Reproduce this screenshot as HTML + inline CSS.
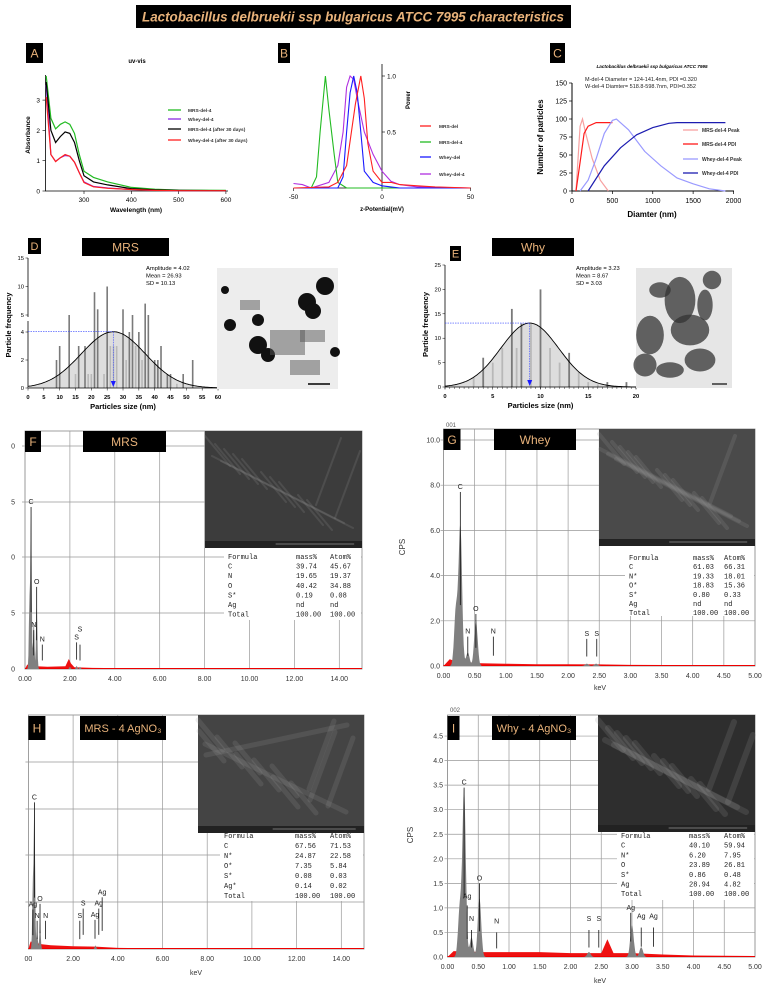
<!DOCTYPE html>
<html><head><meta charset="utf-8"><style>
html,body{margin:0;padding:0;background:#fff}
svg{display:block}
text{font-family:"Liberation Sans",sans-serif}
.mono{font-family:"Liberation Mono",monospace}
</style></head><body>
<svg id="fig" width="769" height="988" viewBox="0 0 769 988">
<rect x="136" y="5" width="435" height="23" fill="#000"/>
<text x="353" y="21.5" text-anchor="middle" font-size="13.4" font-weight="bold" font-style="italic" fill="#e8b27a">Lactobacillus delbruekii ssp bulgaricus ATCC 7995 characteristics</text>
<g id="labels"></g>
</svg>
<script>
// ---------- Panel A data ----------
const aWave=[220,230,240,250,260,270,280,290,300,320,350,400,450,500,600];
const aMRS=[3.8,2.4,2.05,2.2,2.28,2.2,1.9,1.2,0.65,0.45,0.3,0.12,0.06,0.03,0.02];
const aWhey=[3.5,1.2,0.98,1.1,1.17,1.15,0.95,0.6,0.3,0.15,0.1,0.05,0.02,0.01,0.01];
const aMRS30=[3.6,2.0,1.6,1.8,1.95,1.9,1.6,1.0,0.5,0.3,0.2,0.08,0.04,0.02,0.01];
const aWhey30=[3.1,1.2,0.97,1.1,1.2,1.15,0.95,0.6,0.28,0.14,0.09,0.05,0.02,0.01,0.01];
const aXTicks=[300,400,500,600];
const aYTicks=[0,1,2,3];
// ---------- Panel B data ----------
const bMRSx=[-50,-30,-25,-20,-15,-12,-10,-8,-5,0,5,10,20,30,50];
const bMRSy=[0,0.01,0.05,0.2,0.75,1.0,0.8,0.4,0.15,0.05,0.05,0.03,0.02,0.01,0];
const bMRS4x=[-50,-40,-37,-35,-32,-30,-27,-25,-20,-10,50];
const bMRS4y=[0,0,0.1,0.5,1.0,0.7,0.3,0.05,0,0,0];
const bWheyx=[-50,-30,-25,-22,-20,-18,-16,-14,-12,-10,-5,0,5,10,50];
const bWheyy=[0,0,0,0.1,0.5,0.85,1.0,0.85,0.5,0.15,0.05,0.02,0.01,0,0];
const bWhey4x=[-50,-45,-40,-30,-25,-22,-20,-18,-16,-14,-10,-5,0,5,10,20,50];
const bWhey4y=[0.04,0.03,0,0.05,0.2,0.5,0.9,1.0,0.97,0.8,0.5,0.3,0.15,0.06,0.03,0.01,0];
// ---------- Panel C data ----------
const cMPx=[50,100,130,170,250,350,450];
const cMPy=[0,90,100,80,45,15,0];
const cMDx=[50,100,150,200,300,500];
const cMDy=[0,40,80,90,95,95];
const cWPx=[100,200,300,400,500,550,700,900,1100,1300,1500,1700,1900];
const cWPy=[0,15,45,80,98,100,85,55,35,18,10,3,0];
const cWDx=[200,400,600,800,1000,1200,1300,1900];
const cWDy=[0,35,60,78,88,94,95,95];
const cXTicks=[0,500,1000,1500,2000];
const cYTicks=[0,25,50,75,100,125,150];
// ---------- Panel D data ----------
const dSize=[9,10,13,15,16,18,19,20,21,22,24,25,26,27,28,30,31,32,33,34,35,36,37,38,40,41,42,44,45,47,49,52];
const dCount=[2,3,5,1,3,3,1,1,9,6,1,10,3,3,3,6,2,4,5,3,4,2,7,5,2,2,3,1,1,0.3,1,2];
const dFit=[4.02,26.93,10.13];
const dXTicks=[0,5,10,15,20,25,30,35,40,45,50,55,60];
const dYTicks=[0,2,4,5,10,15];
// ---------- Panel E data ----------
const eSize=[3,4,5,6,7,7.5,8,9,10,11,12,13,14,15,16,17,19];
const eCount=[2,6,5,8,16,8,13,13,20,8,5,7,3,1,0.5,1,1];
const eFit=[13.1,8.87,3.03];
const eXTicks=[0,5,10,15,20];
const eYTicks=[0,5,10,15,20,25];
// ---------- EDS data ----------
const fPeakPos=[0.2,0.27,0.39,0.52,2.0,2.3,2.45];
const fPeakH=[6,14.5,4.5,6.3,0.2,0.3,0.2];
const fRedX=[0,0.1,0.5,1.0,1.8,1.95,2.05,2.2,3.0,5.0,8.0,15];
const fRedY=[0,0.4,0.25,0.2,0.25,0.9,0.5,0.15,0.1,0.06,0.03,0.02];
const gPeakPos=[0.2,0.27,0.39,0.52,2.3,2.45];
const gPeakH=[2.5,6.2,0.6,2.0,0.1,0.1];
const gRedX=[0,0.1,0.2,0.6,1.0,1.5,2.0,2.5,3.0,4.0,5.0];
const gRedY=[0,0.3,0.2,0.12,0.1,0.08,0.08,0.07,0.05,0.04,0.03];
const hPeakPos=[0.2,0.27,0.39,0.52,3.0];
const hPeakH=[7,16,2,3,0.4];
const hRedX=[0,0.1,0.6,1.0,2.0,3.0,4.0,6.0,15];
const hRedY=[0,0.8,0.5,0.4,0.3,0.25,0.12,0.04,0.02];
const iPeakPos=[0.2,0.27,0.39,0.52,2.3,3.0,3.15];
const iPeakH=[1.0,3.4,0.4,1.2,0.1,0.65,0.2];
const iRedX=[0,0.1,0.6,1.0,1.5,2.0,2.5,2.6,2.7,3.0,3.5,4.0,5.0];
const iRedY=[0,0.12,0.1,0.1,0.1,0.08,0.08,0.36,0.08,0.08,0.05,0.03,0.02];

const NS='http://www.w3.org/2000/svg';
const svg=document.getElementById('fig');
function mk(tag,attrs,parent){const e=document.createElementNS(NS,tag);for(const k in attrs)e.setAttribute(k,attrs[k]);(parent||svg).appendChild(e);return e;}
function txt(x,y,s,size,attrs){const t=mk('text',Object.assign({x:x,y:y,'font-size':size},attrs||{}));t.textContent=s;return t;}
function pts(xs,ys,sx,sy){return xs.map((v,i)=>sx(v).toFixed(1)+','+sy(ys[i]).toFixed(1)).join(' ');}
function box(x,y,w,h,label,fs,name){const r=mk('rect',{x:x,y:y,width:w,height:h,fill:'#000'});


const t=txt(x+w/2,y+h/2+fs*0.36,label,fs,{'text-anchor':'middle',fill:'#e8b27a'});


return t;}

// ===== Panel A =====
box(26,43,17,20,'A',12,'panel-a');
const ax=v=>84+(v-300)*0.473, ay=v=>Math.max(75,191-v*30.3);
let e=mk('polyline',{points:'45.5,75 45.5,191 228,191',fill:'none',stroke:'#000','stroke-width':0.8});


aXTicks.forEach(v=>{mk('line',{x1:ax(v),x2:ax(v),y1:191,y2:194,stroke:'#000','stroke-width':0.6});
const t=txt(ax(v),202,String(v),6.5,{'text-anchor':'middle'});

});
aYTicks.forEach(v=>{mk('line',{x1:42.5,x2:45.5,y1:ay(v),y2:ay(v),stroke:'#000','stroke-width':0.6});
const t=txt(40,ay(v)+2.5,String(v),6.5,{'text-anchor':'end'});

});
const aSeries=[[aMRS,'#22bb22','MRS-del-4'],[aWhey,'#8a2be2','Whey-del-4'],[aMRS30,'#000','MRS-del-4 (after 30 days)'],[aWhey30,'#ff2020','Whey-del-4 (after 30 days)']];
aSeries.forEach((s,i)=>{const l=mk('polyline',{points:pts(aWave,s[0],ax,ay),fill:'none',stroke:s[1],'stroke-width':1.2});


const ly=[110,119,129,140][i];
mk('line',{x1:168,x2:181,y1:ly,y2:ly,stroke:s[1],'stroke-width':1.3});
const t=txt(188,ly+2,s[2],4.8,{'font-weight':'bold',fill:'#333'});

});
e=txt(137,63,'uv-vis',6,{'text-anchor':'middle','font-weight':'bold'});


e=txt(30,135,'Absorbance',6.5,{'text-anchor':'middle','font-weight':'bold',transform:'rotate(-90 30 135)'});


e=txt(136,212,'Wavelength (nm)',6.5,{'text-anchor':'middle','font-weight':'bold'});



// ===== Panel B =====
box(278,43,12,20,'B',12,'panel-b');
const bx=v=>382+v*1.77, by=v=>188-v*112;
e=mk('line',{x1:294,x2:471,y1:188,y2:188,stroke:'#000','stroke-width':0.8});


e=mk('line',{x1:382,x2:382,y1:64,y2:188,stroke:'#000','stroke-width':0.8});


[-50,0,50].forEach(v=>{mk('line',{x1:bx(v),x2:bx(v),y1:188,y2:191,stroke:'#000','stroke-width':0.6});
const t=txt(bx(v),199,String(v),6.5,{'text-anchor':'middle'});

});
[0.5,1.0].forEach(v=>{mk('line',{x1:382,x2:385,y1:by(v),y2:by(v),stroke:'#000','stroke-width':0.6});
const t=txt(387,by(v)+2.5,v.toFixed(1),6.5,{});

});
const bSeries=[[bMRSx,bMRSy,'#ff2020','MRS-del'],[bMRS4x,bMRS4y,'#22bb22','MRS-del-4'],[bWheyx,bWheyy,'#1a1aff','Whey-del'],[bWhey4x,bWhey4y,'#b030e0','Whey-del-4']];
[3,1,2,0].forEach(i=>{const s=bSeries[i];const l=mk('polyline',{points:pts(s[0],s[1],bx,by),fill:'none',stroke:s[2],'stroke-width':1.1});

});
bSeries.forEach((s,i)=>{const ly=[126,142,157,174][i];mk('line',{x1:420,x2:431,y1:ly,y2:ly,stroke:s[2],'stroke-width':1.3});
const t=txt(439,ly+2,s[3],4.8,{'font-weight':'bold',fill:'#333'});

});
e=txt(410,100,'Power',6,{'text-anchor':'middle','font-weight':'bold',transform:'rotate(-90 410 100)'});


e=txt(382,211,'z-Potential(mV)',6,{'text-anchor':'middle','font-weight':'bold'});



// ===== Panel C =====
box(550,43,15,20,'C',12,'panel-c');
const cx=v=>572+v*0.08075, cy=v=>191-v*0.72;
e=mk('polyline',{points:'572,83 572,191 734,191',fill:'none',stroke:'#000','stroke-width':1});


cXTicks.forEach(v=>{mk('line',{x1:cx(v),x2:cx(v),y1:191,y2:194,stroke:'#000','stroke-width':0.7});
const t=txt(cx(v),203,String(v),7,{'text-anchor':'middle'});

});
cYTicks.forEach(v=>{mk('line',{x1:569,x2:572,y1:cy(v),y2:cy(v),stroke:'#000','stroke-width':0.7});
const t=txt(567,cy(v)+2.5,String(v),7,{'text-anchor':'end'});

});
const cSeries=[[cMPx,cMPy,'#f7a0a0','MRS-del-4 Peak'],[cMDx,cMDy,'#ff1a1a','MRS-del-4 PDI'],[cWPx,cWPy,'#9a9aff','Whey-del-4 Peak'],[cWDx,cWDy,'#1c1cb0','Whey-del-4 PDI']];
cSeries.forEach((s,i)=>{const l=mk('polyline',{points:pts(s[0],s[1],cx,cy),fill:'none',stroke:s[2],'stroke-width':1.2});


const ly=[130,144,159,173][i];mk('line',{x1:683,x2:698,y1:ly,y2:ly,stroke:s[2],'stroke-width':1.3});
const t=txt(702,ly+2,s[3],5,{'font-weight':'bold',fill:'#333'});

});
e=txt(652,68,'Lactobacillus delbruekii ssp bulgaricus ATCC 7995',4.6,{'text-anchor':'middle','font-weight':'bold','font-style':'italic'});


e=txt(585,81,'M-del-4 Diameter = 124-141.4nm, PDI =0.320',5.5,{fill:'#222'});


e=txt(585,88,'W-del-4 Diamter= 518.8-598.7nm, PDI=0.352',5.5,{fill:'#222'});


e=txt(543,137,'Number of particles',8,{'text-anchor':'middle','font-weight':'bold',transform:'rotate(-90 543 137)'});


e=txt(652,217,'Diamter (nm)',8,{'text-anchor':'middle','font-weight':'bold'});



// ===== Histograms =====
function gauss(x,f){return f[0]*Math.exp(-0.5*Math.pow((x-f[1])/f[2],2));}
function hist(sizes,counts,fit,xs,ys,x0,x1,y0,xt,yt,pref,barW,stats){
 let p=[];for(let v=xs.inv(x0);v<=xs.inv(x1)+0.001;v+=(xs.inv(x1)-xs.inv(x0))/120)p.push(xs(v).toFixed(1)+','+ys(gauss(v,fit)).toFixed(1));
 let a=mk('polygon',{points:xs(xs.inv(x0))+','+y0+' '+p.join(' ')+' '+x1+','+y0,fill:'#ddd'});
 
 
 sizes.forEach((s,i)=>{const inside=counts[i]<=gauss(s,fit);const r=mk('rect',{x:xs(s)-barW/2,y:ys(counts[i]),width:barW,height:y0-ys(counts[i]),fill:inside?'#b8b8b8':'#7a7a7a'});
 
 });
 let l=mk('polyline',{points:p.join(' '),fill:'none',stroke:'#000','stroke-width':0.9});
 
 
 const mx=xs(fit[1]),my=ys(fit[0]);
 mk('line',{x1:x0,x2:mx,y1:my,y2:my,stroke:'#3344ff','stroke-width':0.6,'stroke-dasharray':'1.5,1'});
 mk('line',{x1:mx,x2:mx,y1:my,y2:y0-4,stroke:'#3344ff','stroke-width':0.6,'stroke-dasharray':'1.5,1'});
 let m=mk('polygon',{points:(mx-2.5)+','+(y0-7)+' '+(mx+2.5)+','+(y0-7)+' '+mx+','+(y0-1),fill:'#1a1aff'});
 
 
 mk('line',{x1:x0,x2:x1,y1:y0,y2:y0,stroke:'#000','stroke-width':0.8});
 xt.forEach(v=>{mk('line',{x1:xs(v),x2:xs(v),y1:y0,y2:y0+2.5,stroke:'#000','stroke-width':0.5});
 const t=txt(xs(v),y0+11,String(v),5.8,{'text-anchor':'middle','font-weight':'bold'});
 
 });
 yt.forEach(v=>{mk('line',{x1:x0-2.5,x2:x0,y1:ys(v),y2:ys(v),stroke:'#000','stroke-width':0.5});
 const t=txt(x0-4,ys(v)+2,String(v),5.8,{'text-anchor':'end'});
 
 });
 stats.forEach((s,i)=>{const t=txt(x1-60+ (pref=='d'?-12:0),270+i*7.5,s,5.8,{});
 
 });
 let t=txt((x0+x1)/2,y0+21,'Particles size (nm)',7.5,{'text-anchor':'middle','font-weight':'bold'});
 
 
 t=txt(x0-17,(y0+262)/2,'Particle frequency',7.5,{'text-anchor':'middle','font-weight':'bold',transform:'rotate(-90 '+(x0-17)+' '+((y0+262)/2)+')'});
 
 
}
box(28,238,13,16,'D',11,'panel-d');
box(82,238,87,18,'MRS',12,'mrs-title');
box(450,246,11,15,'E',11,'panel-e');
box(492,238,82,18,'Why',12,'why-title');
const dx=v=>28+v*3.167; dx.inv=p=>(p-28)/3.167;
const dy=v=>v<=4.5?388-v*14:315-(v-5)*5.7;
e=mk('line',{x1:28,x2:28,y1:258,y2:317,stroke:'#000','stroke-width':0.8});


e=mk('line',{x1:28,x2:28,y1:321,y2:388,stroke:'#000','stroke-width':0.8});


hist(dSize,dCount,dFit,dx,dy,28,218,388,dXTicks,dYTicks,'d',1.6,['Amplitude = 4.02','Mean = 26.93','SD = 10.13']);
const ex=v=>445+v*9.55; ex.inv=p=>(p-445)/9.55;
const ey=v=>387-v*4.88;
e=mk('line',{x1:445,x2:445,y1:265,y2:387,stroke:'#000','stroke-width':0.8});


hist(eSize,eCount,eFit,ex,ey,445,636,387,eXTicks,eYTicks,'e',1.8,['Amplitude = 3.23','Mean = 8.67','SD = 3.03']);
for(let v=0;v<=20;v+=0.5)mk('line',{x1:ex(v),x2:ex(v),y1:387,y2:389,stroke:'#000','stroke-width':0.4});

// TEM images
e=mk('rect',{x:217,y:268,width:121,height:121,fill:'#ededed'});


[[325,286,9],[307,302,9],[313,311,8],[230,325,6],[258,320,6],[258,345,9],[268,355,7],[335,352,5],[225,290,4]].forEach(c=>mk('circle',{cx:c[0],cy:c[1],r:c[2],fill:'#111'}));
[[240,300,20,10],[270,330,35,25],[290,360,30,15],[300,330,25,12]].forEach(r=>mk('rect',{x:r[0],y:r[1],width:r[2],height:r[3],fill:'#555',opacity:0.5}));
mk('line',{x1:308,x2:330,y1:384,y2:384,stroke:'#000','stroke-width':1.5});
e=mk('rect',{x:636,y:268,width:96,height:120,fill:'#e6e6e6'});


[[660,290,14,10],[680,300,20,30],[690,330,25,20],[650,335,18,25],[700,360,20,15],[712,280,12,12],[645,365,15,15],[670,370,18,10],[705,305,10,20]].forEach(r=>mk('ellipse',{cx:r[0],cy:r[1],rx:r[2]/1.3,ry:r[3]/1.3,fill:'#333',opacity:0.75}));
mk('line',{x1:712,x2:727,y1:384,y2:384,stroke:'#333','stroke-width':1.5});

// ===== EDS panels =====
function eds(cfg){
 const {x0,x1,y0,y1,sx,sy,xt,xfmt,grid,pos,h,rx,ry,img,tbl,rows,pref,marks,xmax}=cfg;
 let f=mk('rect',{x:x0,y:y1,width:x1-x0,height:y0-y1,fill:'#fff',stroke:'#888','stroke-width':0.8});
 
 
 grid.forEach(g=>mk('line',{x1:x0-3,x2:x1,y1:g,y2:g,stroke:'#999','stroke-width':0.7}));
 xt.forEach(v=>{mk('line',{x1:sx(v),x2:sx(v),y1:y1,y2:y0,stroke:'#999','stroke-width':0.7});
 const t=txt(sx(v),y0+12,xfmt(v),7,{'text-anchor':'middle',fill:'#333'});
 
 });
 mk('rect',{x:tbl[0]-4,y:img[1]+img[3],width:x1-tbl[0]+3,height:tbl[2],fill:'#fff'});
 let rp=rx.map((v,i)=>sx(Math.min(v,xmax)).toFixed(1)+','+sy(ry[i]).toFixed(1)).join(' ');
 let r=mk('polygon',{points:sx(0)+','+y0+' '+rp+' '+x1+','+y0,fill:'#ee1111'});
 
 
 mk('line',{x1:x0,x2:x1,y1:y0-0.5,y2:y0-0.5,stroke:'#e00','stroke-width':1});
 let p=[];for(let v=0;v<=xmax;v+=xmax/600){let s=0;pos.forEach((q,i)=>{s+=h[i]*Math.exp(-0.5*Math.pow((v-q)/0.028,2));});p.push(sx(v).toFixed(1)+','+sy(s).toFixed(1));}
 let g=mk('polygon',{points:sx(0)+','+y0+' '+p.join(' ')+' '+sx(xmax)+','+y0,fill:'#808080'});
 
 
 marks.forEach(m=>{mk('line',{x1:sx(m[0]),x2:sx(m[0]),y1:sy(m[1]),y2:sy(m[1]*0.35),stroke:'#111','stroke-width':0.8});
 const t=txt(sx(m[0]),sy(m[1])-3+(m[3]||0),m[2],7,{'text-anchor':'middle',fill:'#222'});
 
 });
 let im=mk('rect',{x:img[0],y:img[1],width:img[2],height:img[3],fill:img[4]});
 
 
 for(let k=0;k<14;k++){mk('line',{x1:img[0]+((k*37)%img[2]),y1:img[1]+((k*23)%(img[3]-20))+5,x2:img[0]+((k*37+25)%img[2]),y2:img[1]+((k*23+30)%(img[3]-20))+5,stroke:'#9a9a9a','stroke-width':img[5],opacity:0.18,'stroke-linecap':'round'});}
 mk('rect',{x:img[0],y:img[1]+img[3]-7,width:img[2],height:7,fill:'#222'});
 mk('line',{x1:img[0]+img[2]*0.45,x2:img[0]+img[2]*0.95,y1:img[1]+img[3]-4,y2:img[1]+img[3]-4,stroke:'#ccc','stroke-width':0.5});
 rows.forEach((row,i)=>{row.forEach((c,j)=>{const t=txt(tbl[j==0?0:j==1?3:4],tbl[1]+i*tbl[5],c,7,{'class':'mono',fill:'#222'});
 
 });});
}
const xf2=v=>v.toFixed(2);
// F
const fx=v=>25+v*22.45, fy=v=>669-v*11.1;
eds({x0:25,x1:362,y0:669,y1:431,sx:fx,sy:fy,xmax:15,xt:[0,2,4,6,8,10,12,14],xfmt:xf2,grid:[446,502,557,613],
 pos:fPeakPos,h:fPeakH,rx:fRedX,ry:fRedY,img:[205,431,157,117,'#3c3c3c',2],tbl:[228,559,72,296,330,9.6],pref:'f',
 rows:[['Formula','mass%','Atom%'],['C','39.74','45.67'],['N','19.65','19.37'],['O','40.42','34.88'],['S*','0.19','0.08'],['Ag','nd','nd'],['Total','100.00','100.00']],
 marks:[[0.27,14.6,'C'],[0.52,7.4,'O'],[0.39,3.5,'N'],[0.77,2.2,'N'],[2.3,2.4,'S'],[2.45,2.2,'S',-10]]});
['0','5','0','5','0'].forEach((s,i)=>{const t=txt(15,[446,502,557,613,669][i]+2.5,s,7,{'text-anchor':'end',fill:'#333'});

});
box(25,431,16,21,'F',12,'panel-f');
box(83,431,83,21,'MRS',12,'f-mrs-title');
// G
const gx=v=>443.5+v*62.3, gy=v=>666-v*22.6;
eds({x0:443.5,x1:755,y0:666,y1:429,sx:gx,sy:gy,xmax:5,xt:[0,0.5,1,1.5,2,2.5,3,3.5,4,4.5,5],xfmt:xf2,grid:[gy(2),gy(4),gy(6),gy(8),gy(10)],
 pos:gPeakPos,h:gPeakH,rx:gRedX,ry:gRedY,img:[599,429,156,117,'#4a4a4a',4],tbl:[629,560,70,693,724,9.2],pref:'g',
 rows:[['Formula','mass%','Atom%'],['C','61.03','66.31'],['N*','19.33','18.01'],['O*','18.83','15.36'],['S*','0.80','0.33'],['Ag','nd','nd'],['Total','100.00','100.00']],
 marks:[[0.27,7.7,'C'],[0.39,1.3,'N'],[0.52,2.3,'O'],[0.8,1.3,'N'],[2.3,1.2,'S'],[2.46,1.2,'S']]});
[0,2,4,6,8,10].forEach(v=>{const t=txt(440,gy(v)+2.5,v.toFixed(1),7,{'text-anchor':'end',fill:'#333'});

});
box(443.5,429,17,21,'G',12,'panel-g');
box(494,429,82,21,'Whey',12,'g-whey-title');
e=txt(405,547,'CPS',8,{'text-anchor':'middle',fill:'#333',transform:'rotate(-90 405 547)'});


e=txt(600,690,'keV',7,{'text-anchor':'middle',fill:'#333'});


e=txt(446,427,'001',6,{fill:'#555'});


// H
const hx=v=>28.4+v*22.35, hy=v=>949-v*9.4;
eds({x0:28.4,x1:364,y0:949,y1:715,sx:hx,sy:hy,xmax:15,xt:[0,2,4,6,8,10,12,14],xfmt:v=>v==0?'00':v.toFixed(2),grid:[762,809,855,902],
 pos:hPeakPos,h:hPeakH,rx:hRedX,ry:hRedY,img:[198,715,166,118,'#444',5],tbl:[224,838,68,295,330,10],pref:'h',
 rows:[['Formula','mass%','Atom%'],['C','67.56','71.53'],['N*','24.87','22.58'],['O*','7.35','5.84'],['S*','0.08','0.03'],['Ag*','0.14','0.02'],['Total','100.00','100.00']],
 marks:[[0.27,15.6,'C'],[0.52,4.8,'O'],[0.2,4.2,'Ag',0],[0.39,3.0,'N'],[0.77,3.0,'N'],[2.3,3.0,'S'],[2.45,4.3,'S'],[2.98,3.1,'Ag'],[3.15,4.3,'Ag'],[3.3,5.5,'Ag']]});
box(28.4,716,17,24,'H',12,'panel-h');
box(80,716,86,24,'MRS - 4 AgNO₃',11,'h-title');
e=txt(196,975,'keV',7,{'text-anchor':'middle',fill:'#333'});


// I
const ix=v=>447.5+v*61.5, iy=v=>957-v*49.1;
eds({x0:447.5,x1:755,y0:957,y1:715,sx:ix,sy:iy,xmax:5,xt:[0,0.5,1,1.5,2,2.5,3,3.5,4,4.5,5],xfmt:xf2,grid:[0.5,1,1.5,2,2.5,3,3.5,4,4.5].map(iy),
 pos:iPeakPos,h:iPeakH,rx:iRedX,ry:iRedY,img:[598,715,157,117,'#2e2e2e',6],tbl:[621,838,68,689,724,9.7],pref:'i',
 rows:[['Formula','mass%','Atom%'],['C','40.10','59.94'],['N*','6.20','7.95'],['O','23.89','26.81'],['S*','0.86','0.48'],['Ag','28.94','4.82'],['Total','100.00','100.00']],
 marks:[[0.27,3.45,'C'],[0.32,1.05,'Ag',-4],[0.39,0.55,'N',-6],[0.52,1.5,'O'],[0.8,0.5,'N',-6],[2.3,0.55,'S',-6],[2.46,0.55,'S',-6],[2.98,0.9,'Ag'],[3.15,0.6,'Ag',-6],[3.35,0.6,'Ag',-6]]});
[0,0.5,1,1.5,2,2.5,3,3.5,4,4.5].forEach(v=>{const t=txt(443,iy(v)+2.5,v.toFixed(1),7,{'text-anchor':'end',fill:'#333'});

});
box(447.5,716,12,24,'I',12,'panel-i');
box(492,716,84,24,'Why - 4 AgNO₃',11,'i-title');
e=txt(413,835,'CPS',8,{'text-anchor':'middle',fill:'#333',transform:'rotate(-90 413 835)'});


e=txt(600,983,'keV',7,{'text-anchor':'middle',fill:'#333'});


e=txt(450,712,'002',6,{fill:'#555'});


</script>
</body></html>
